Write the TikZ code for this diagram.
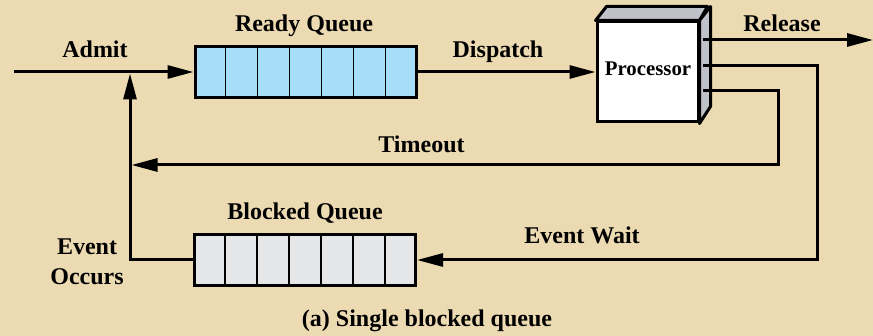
\documentclass[tikz,border=0pt]{standalone}
\usepackage{fontspec}
\setmainfont{Liberation Serif}
\usetikzlibrary{positioning, arrows.meta, calc}
\definecolor{paper}{RGB}{236,219,178}
\definecolor{readyblue}{RGB}{168,221,248}
\definecolor{blockgrey}{RGB}{229,230,232}
\definecolor{sidegrey}{RGB}{190,193,199}

\begin{document}
\begin{tikzpicture}[x=0.5pt,y=-0.5pt,font=\bfseries\fontsize{12}{15}\selectfont,
  flow/.style={line width=1.5pt,-{Triangle[length=13pt,width=6.5pt]}},
  queue/.style={draw,line width=1.5pt,minimum width=110.5pt,minimum height=25.5pt,inner sep=0pt}]
\fill[paper] (0,0) rectangle (873,336);
\useasboundingbox (0,0) rectangle (873,336);

\node[queue,fill=readyblue] (RQ) at (305.5,72) {};
\node[queue,fill=blockgrey] (BQ) at (305,260) {};
\foreach \q in {RQ,BQ}
  \foreach \i in {1,...,6}
    \draw[line width=0.9pt] ($(\q.north west)!\i/7!(\q.north east)$) -- ($(\q.south west)!\i/7!(\q.south east)$);

\node[draw,fill=white,line width=1.5pt,minimum width=50.5pt,minimum height=50pt,inner sep=0pt] (CPU) at (647.5,72) {};
\draw[line width=1.5pt,fill=sidegrey,line join=round] (CPU.north west) -- ++(11,-14) -- ++(101,0) -- (CPU.north east) -- cycle;
\draw[line width=1.5pt,fill=sidegrey,line join=round] (CPU.north east) -- ++(11,-14) -- ++(0,100) -- (CPU.south east) -- cycle;
\node[anchor=base,font=\bfseries\fontsize{10.4}{12}\selectfont] (cpulabel) at (648,76) {Processor};

\coordinate (start) at (14,72);
\coordinate (join) at (130,73.5);
\coordinate (s1) at (703,40);
\coordinate (s2) at (703,66);
\coordinate (s3) at (703,91);
\coordinate (out) at (873,40);
\coordinate (tback) at (778,165);
\coordinate (tin) at (131.5,165);
\coordinate (ewback) at (817,260);

\draw[flow] (start) -- (RQ.west);
\draw[flow] (RQ.east) -- (CPU.west);
\draw[flow] (s1) -- (out);
\draw[flow] (s3) -| (tback) -- (tin);
\draw[flow] (s2) -| (ewback) -- (BQ.east);
\draw[flow] (BQ.west) -| (join);

\node[anchor=base] (admit) at (95,57.5) {Admit};
\node[anchor=base] (rqlabel) at (304,32) {Ready Queue};
\node[anchor=base] (dispatch) at (498,57.5) {Dispatch};
\node[anchor=base] (release) at (782,32) {Release};
\node[anchor=base] (timeout) at (421.5,153) {Timeout};
\node[anchor=base] (bqlabel) at (305,220) {Blocked Queue};
\node[anchor=base] (evwait) at (582,244) {Event Wait};
\node[align=center] (evocc) at (87,262) {Event\\Occurs};
\node[anchor=base] (caption) at (427,327) {(a) Single blocked queue};
\end{tikzpicture}
\end{document}
